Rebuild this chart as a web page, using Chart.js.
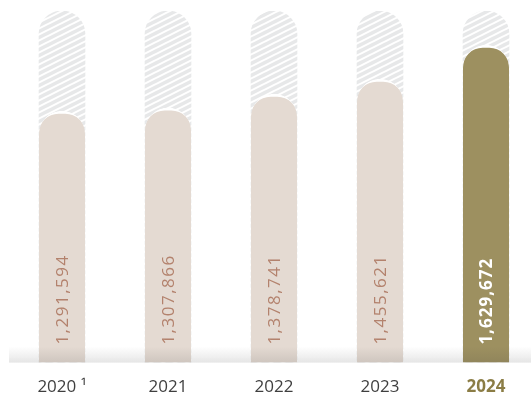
<!DOCTYPE html>
<html>
<head>
<meta charset="utf-8">
<script src="https://cdn.jsdelivr.net/npm/chart.js@4/dist/chart.umd.min.js"></script>
<style>
  html, body { margin: 0; padding: 0; background: #fff; overflow: hidden; }
  #wrap { width: 540px; height: 404px; overflow: hidden; }
</style>
</head>
<body>
<div id="wrap"><canvas id="chart" width="540" height="422"></canvas></div>
<script>
// Datos del gráfico
const years = ["2020 ¹", "2021", "2022", "2023", "2024"];
const totals = [1291594, 1307866, 1378741, 1455621, 1629672];
const Y_MAX = 1805000; // tope de la escala (barra rayada de fondo)

const FONT = "'Open Sans', 'Noto Sans', sans-serif";
const BEIGE = "#e4dad2";
const OLIVE = "#9d9060";
const LABEL = "#b3826d";

// Patrón de rayas diagonales para la barra de fondo
function stripePattern(ctx) {
  const tile = document.createElement("canvas");
  tile.width = 12;
  tile.height = 6;
  const t = tile.getContext("2d");
  t.fillStyle = "#e7e8e9";
  t.fillRect(0, 0, 12, 6);
  t.strokeStyle = "#ffffff";
  t.lineWidth = 2;
  for (let k = -1; k <= 1; k++) {
    t.beginPath();
    t.moveTo(-2, 6 + 1 + k * 6);
    t.lineTo(14, 6 - 7 + k * 6);
    t.stroke();
  }
  return ctx.createPattern(tile, "repeat");
}

const canvas = document.getElementById("chart");
const ctx = canvas.getContext("2d");

// Suelo degradado y cifras verticales dentro de cada barra
const barLabels = {
  id: "barLabels",
  afterDatasetsDraw(chart) {
    const c = chart.ctx;
    const area = chart.chartArea;
    const g = c.createLinearGradient(0, area.bottom - 16, 0, area.bottom);
    g.addColorStop(0, "rgba(60,60,60,0)");
    g.addColorStop(1, "rgba(60,60,60,0.13)");
    c.save();
    c.fillStyle = g;
    c.fillRect(area.left, area.bottom - 16, chart.width - area.left, 16);
    c.restore();

    const meta = chart.getDatasetMeta(1);
    meta.data.forEach((bar, i) => {
      const last = i === totals.length - 1;
      c.save();
      c.translate(bar.x, area.bottom - 18);
      c.rotate(-Math.PI / 2);
      c.font = (last ? "bold " : "") + "17px " + FONT;
      c.letterSpacing = last ? "1px" : "1.5px";
      c.fillStyle = last ? "#ffffff" : LABEL;
      c.textAlign = "left";
      c.textBaseline = "middle";
      c.fillText(totals[i].toLocaleString("en-US"), 0, 1);
      c.restore();
    });
  }
};

new Chart(ctx, {
  type: "bar",
  data: {
    labels: years,
    datasets: [
      {
        data: years.map(() => Y_MAX),
        backgroundColor: stripePattern(ctx),
        borderRadius: { topLeft: 23, topRight: 23 },
        borderSkipped: "bottom",
        grouped: false,
        order: 2
      },
      {
        data: totals,
        backgroundColor: totals.map((v, i) => i === totals.length - 1 ? OLIVE : BEIGE),
        borderColor: "#ffffff",
        borderWidth: { top: 3, left: 0, right: 0, bottom: 0 },
        borderRadius: { topLeft: 23, topRight: 23 },
        borderSkipped: "bottom",
        grouped: false,
        order: 1
      }
    ]
  },
  options: {
    responsive: false,
    animation: false,
    events: [],
    barThickness: 46,
    layout: { padding: { left: 9, right: 1, top: 11, bottom: 11 } },
    plugins: { legend: { display: false }, tooltip: { enabled: false } },
    scales: {
      x: {
        grid: { display: false, drawTicks: false },
        border: { display: false },
        ticks: {
          padding: 14,
          font: (c) => ({ family: FONT, size: 17, weight: c.index === 4 ? "bold" : "normal" }),
          color: (c) => c.index === 4 ? "#8b7d45" : "#3f3f3f"
        }
      },
      y: {
        display: false,
        min: 0,
        max: Y_MAX
      }
    }
  },
  plugins: [barLabels]
});
</script>
</body>
</html>
